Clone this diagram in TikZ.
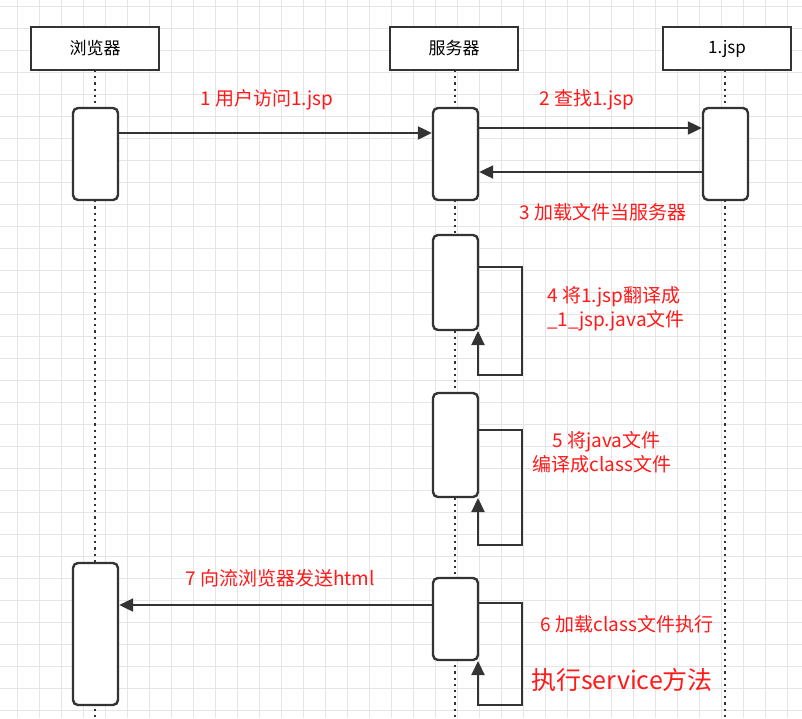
\documentclass[tikz,border=0pt]{standalone}
\usepackage{fontspec}
\setmainfont{Noto Sans CJK SC}
\usetikzlibrary{arrows.meta}
\begin{document}
\begin{tikzpicture}[x=1pt,y=-1pt,
 hdr/.style={draw=black!80,line width=2.4pt,fill=white,minimum width=128pt,minimum height=43pt,inner sep=0pt,font=\fontsize{17}{19}\selectfont},
 act/.style={draw=black!80,line width=2.4pt,fill=white,rounded corners=5pt,minimum width=45pt,inner sep=0pt},
 life/.style={black!80,line width=2.2pt,dash pattern=on 2.2pt off 4pt},
 msg/.style={black!80,line width=2.2pt,-{Triangle[length=14pt,width=13pt]}},
 lbl/.style={text=red!90!white,font=\fontsize{19}{24}\selectfont,align=center,inner sep=0pt}]
\useasboundingbox (0,0) rectangle (802,718);
\fill[white] (0,0) rectangle (802,718);
\foreach \x in {17,39,...,802} \draw[black!10,line width=1pt] (\x,0)--(\x,718);
\foreach \y in {6,28,...,718} \draw[black!10,line width=1pt] (0,\y)--(802,\y);
% lifelines
\draw[life] (95,70)--(95,718);
\draw[life] (455,70)--(455,718);
\draw[life] (725,70)--(725,718);
% headers
\node[hdr] (b) at (95,48.5) {浏览器};
\node[hdr] (s) at (454,48.5) {服务器};
\node[hdr] (j) at (727,48.5) {1.jsp};
% activations
\node[act,minimum height=92pt] (b1) at (95.5,154) {};
\node[act,minimum height=92pt] (s1) at (455.5,154) {};
\node[act,minimum height=92pt] (j1) at (725.5,154) {};
\node[act,minimum height=95pt] (s2) at (455.5,282.5) {};
\node[act,minimum height=104pt] (s3) at (455.5,445) {};
\node[act,minimum height=82pt] (s4) at (455.5,619) {};
\node[act,minimum height=142pt] (b2) at (95.5,634) {};
% messages
\draw[msg] (b1.east|-0,133) -- (s1.west|-0,133);
\draw[msg] (s1.east|-0,128) -- (j1.west|-0,128);
\draw[msg] (j1.west|-0,172) -- (s1.east|-0,172);
\draw[msg] (s4.west|-0,605) -- (b2.east|-0,605);
% self loops
\draw[msg] (s2.east|-0,267) -- (522,267) -- (522,375) -- (478,375) -- (478,331);
\draw[msg] (s3.east|-0,430) -- (522,430) -- (522,545) -- (478,545) -- (478,498);
\draw[msg] (s4.east|-0,603) -- (522,603) -- (522,705) -- (478,705) -- (478,661);
% labels
\node[lbl] (l1) at (267,100) {1 用户访问1.jsp};
\node[lbl] (l2) at (587,100) {2 查找1.jsp};
\node[lbl] (l3) at (603,212) {3 加载文件当服务器};
\node[lbl,align=left] (l4) at (616,309) {4 将1.jsp翻译成\\\_1\_jsp.java文件};
\node[lbl] (l5) at (602,452) {\ \ 5 将java文件\\编译成class文件};
\node[lbl] (l7) at (280,578) {7 向流浏览器发送html};
\node[lbl] (l6) at (627,624) {6 加载class文件执行};
\node[lbl,font=\fontsize{25}{28}\selectfont] (l8) at (622,680) {执行service方法};
\end{tikzpicture}
\end{document}
